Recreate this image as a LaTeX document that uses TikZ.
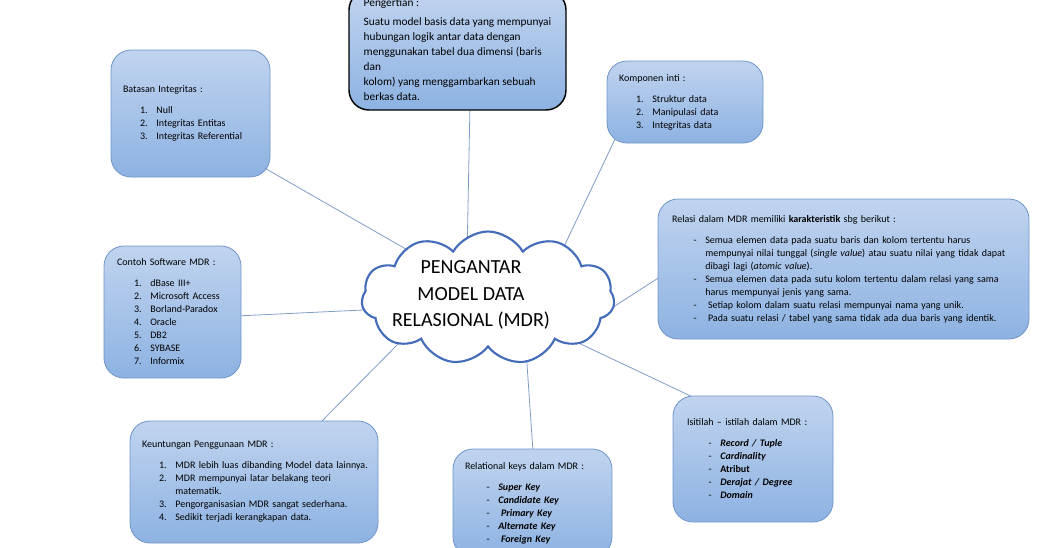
\documentclass[tikz,border=0pt]{standalone}
\usepackage{fontspec}
\setmainfont{Carlito}
\usepackage{enumitem}
\usetikzlibrary{shapes.symbols, backgrounds}
\setlength{\parindent}{0pt}
\definecolor{boxtop}{RGB}{192,212,239}
\definecolor{boxbottom}{RGB}{141,178,226}
\definecolor{boxline}{RGB}{112,148,200}
\definecolor{linkline}{RGB}{128,156,200}
\definecolor{cloudline}{RGB}{68,108,186}
\setlist{nosep, topsep=6pt, leftmargin=25pt, labelsep=6.5pt, rightmargin=-14pt}
\tikzset{
  box/.style={draw=boxline, line width=0.6pt, rectangle, rounded corners=15pt, top color=boxtop, bottom color=boxbottom, align=left, inner xsep=9pt, font=\fontsize{7.5}{9.75}\selectfont},
  defbox/.style={box, draw=black, line width=1.1pt, font=\fontsize{8.5}{11.25}\selectfont},
  link/.style={draw=linkline, line width=0.6pt},
  mdrcloud/.style={cloud, cloud puffs=11, cloud puff arc=120, aspect=1.9, draw=cloudline, line width=1.6pt, fill=white, inner sep=0pt}
}
\begin{document}
\begin{tikzpicture}[x=0.75pt, y=-0.75pt]
\useasboundingbox (0,0) rectangle (1041,547);
\clip (0,0) rectangle (1041,547);

\node[mdrcloud, minimum width=189.75pt, minimum height=99.75pt] (mdr) at (488,298) {};
\node[font=\fontsize{15}{20}\selectfont, align=center] (mdrtext) at (471,295) {PENGANTAR\\MODEL DATA\\RELASIONAL (MDR)};

\node[defbox, minimum width=162.75pt, minimum height=90pt] (pengertian) at (457.5,50) {Pengertian :\\[3pt]Suatu model basis data yang mempunyai\\hubungan logik antar data dengan\\menggunakan tabel dua dimensi (baris\\dan\\kolom) yang menggambarkan sebuah\\berkas data.};

\node[box, text width=101.25pt, minimum height=95.25pt] (batasan) at (190.5,113.5) {Batasan Integritas :
\begin{enumerate}
\item Null
\item Integritas Entitas
\item Integritas Referential
\end{enumerate}};

\node[box, text width=99pt, minimum height=61.5pt] (komponen) at (685,102) {Komponen inti :
\begin{enumerate}
\item Struktur data
\item Manipulasi data
\item Integritas data
\end{enumerate}};

\node[box, inner xsep=10.5pt, text width=257.25pt, minimum height=105pt] (relasi) at (843.5,269) {Relasi dalam MDR memiliki \textbf{karakteristik} sbg berikut :
\begin{itemize}[label={-}]
\item Semua elemen data pada suatu baris dan kolom tertentu harus\newline mempunyai nilai tunggal (\textit{single value}) atau suatu nilai yang tidak dapat\newline dibagi lagi (\textit{atomic value}).
\item Semua elemen data pada sutu kolom tertentu dalam relasi yang sama\newline harus mempunyai jenis yang sama.
\item \hspace{2pt}Setiap kolom dalam suatu relasi mempunyai nama yang unik.
\item \hspace{2pt}Pada suatu relasi / tabel yang sama tidak ada dua baris yang identik.
\end{itemize}};

\node[box, inner xsep=9.75pt, text width=83.25pt, minimum height=99pt] (contoh) at (172.5,312) {Contoh Software MDR :
\begin{enumerate}
\item dBase III+
\item Microsoft Access
\item Borland-Paradox
\item Oracle
\item DB2
\item SYBASE
\item Informix
\end{enumerate}};

\node[box, text width=168pt, minimum height=91.5pt] (keuntungan) at (254,482) {Keuntungan Penggunaan MDR :
\begin{enumerate}
\item MDR lebih luas dibanding Model data lainnya.
\item MDR mempunyai latar belakang teori\newline matematik.
\item Pengorganisasian MDR sangat sederhana.
\item Sedikit terjadi kerangkapan data.
\end{enumerate}};

\node[box, text width=101.25pt, minimum height=81pt] (keys) at (532.5,503) {Relational keys dalam MDR :
\begin{itemize}[label={-}]
\item \textbf{\textit{Super Key}}
\item \textbf{\textit{Candidate Key}}
\item \hspace{2pt}\textbf{\textit{Primary Key}}
\item \textbf{\textit{Alternate Key}}
\item \hspace{2pt}\textbf{\textit{Foreign Key}}
\end{itemize}};

\node[box, inner xsep=10.5pt, text width=99pt, minimum height=94.5pt] (istilah) at (753,459) {Isitilah -- istilah dalam MDR :
\begin{itemize}[label={-}]
\item \textbf{\textit{Record / Tuple}}
\item \textbf{\textit{Cardinality}}
\item \textbf{Atribut}
\item \textbf{\textit{Derajat / Degree}}
\item \textbf{\textit{Domain}}
\end{itemize}};

\begin{scope}[on background layer]
\draw[link] ([shift={(12.5,54)}]pengertian.center) -- ([shift={(-21,-40)}]mdr.center);
\draw[link] ([shift={(70.5,52.5)}]batasan.center) -- ([shift={(-77,-46)}]mdr.center);
\draw[link] ([shift={(-69,35)}]komponen.center) -- ([shift={(72,-43)}]mdr.center);
\draw[link] ([shift={(-177.5,4)}]relasi.center) -- ([shift={(102,24)}]mdr.center);
\draw[link] ([shift={(63.5,4)}]contoh.center) -- ([shift={(-93,10.5)}]mdr.center);
\draw[link] ([shift={(64,-57)}]keuntungan.center) -- ([shift={(-82,38)}]mdr.center);
\draw[link] ([shift={(0.5,-51.5)}]keys.center) -- ([shift={(37,37)}]mdr.center);
\draw[link] ([shift={(-56,-60)}]istilah.center) -- ([shift={(63,32)}]mdr.center);
\end{scope}

\end{tikzpicture}
\end{document}
